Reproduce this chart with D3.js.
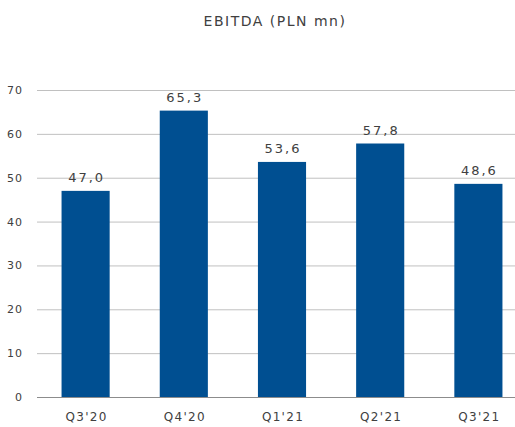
<!DOCTYPE html>
<meta charset="utf-8">
<style>
  body { margin: 0; background: #fff; }
  text { font-family: "DejaVu Sans", Verdana, sans-serif; fill: #404040; }
</style>
<script src="https://d3js.org/d3.v7.min.js"></script>
<div id="chart"></div>
<script>
  var quarters = ["Q3'20", "Q4'20", "Q1'21", "Q2'21", "Q3'21"];
  var ebitda = [47.0, 65.3, 53.6, 57.8, 48.6];
  var yTicks = [0, 10, 20, 30, 40, 50, 60, 70];

  var W = 515, H = 427;

  var svg = d3.select("#chart").append("svg")
    .attr("width", W)
    .attr("height", H);

  var x = d3.scaleBand()
    .domain(quarters)
    .range([37, 527])
    .paddingInner(0.51)
    .paddingOuter(0.25);

  var y = d3.scaleLinear()
    .domain([0, 70])
    .range([397, 90]);

  // grid lines
  svg.append("g")
    .selectAll("line")
    .data(yTicks.filter(function (d) { return d > 0; }))
    .enter().append("line")
    .attr("x1", 37).attr("x2", W)
    .attr("y1", function (d) { return y(d) + 0.5; })
    .attr("y2", function (d) { return y(d) + 0.5; })
    .attr("stroke", "#c0c0c0")
    .attr("stroke-width", 1);

  // y tick labels
  svg.append("g")
    .selectAll("text")
    .data(yTicks)
    .enter().append("text")
    .attr("x", 23)
    .attr("y", function (d) { return y(d) + 4; })
    .attr("text-anchor", "end")
    .style("font-size", "11px")
    .style("letter-spacing", "1px")
    .text(function (d) { return d; });

  // bars
  svg.append("g")
    .selectAll("rect")
    .data(ebitda)
    .enter().append("rect")
    .attr("x", function (d, i) { return x(quarters[i]); })
    .attr("width", x.bandwidth())
    .attr("y", function (d) { return y(d); })
    .attr("height", function (d) { return y(0) - y(d); })
    .attr("fill", "#004f91");

  // baseline
  svg.append("line")
    .attr("x1", 37).attr("x2", W)
    .attr("y1", y(0) + 0.5).attr("y2", y(0) + 0.5)
    .attr("stroke", "#8c8c8c");

  // value labels
  svg.append("g")
    .selectAll("text")
    .data(ebitda)
    .enter().append("text")
    .attr("x", function (d, i) { return x(quarters[i]) + x.bandwidth() / 2 + 1; })
    .attr("y", function (d) { return y(d) - 9; })
    .attr("text-anchor", "middle")
    .style("font-size", "13px")
    .style("letter-spacing", "2px")
    .text(function (d) { return d.toFixed(1).replace(".", ","); });

  // x labels
  svg.append("g")
    .selectAll("text")
    .data(quarters)
    .enter().append("text")
    .attr("x", function (d) { return x(d) + x.bandwidth() / 2 + 1; })
    .attr("y", 421)
    .attr("text-anchor", "middle")
    .style("font-size", "12px")
    .style("letter-spacing", "1.3px")
    .text(function (d) { return d; });

  svg.append("text")
    .attr("x", 275)
    .attr("y", 26)
    .attr("text-anchor", "middle")
    .style("font-size", "14px")
    .style("letter-spacing", "1.5px")
    .text("EBITDA (PLN mn)");
</script>
